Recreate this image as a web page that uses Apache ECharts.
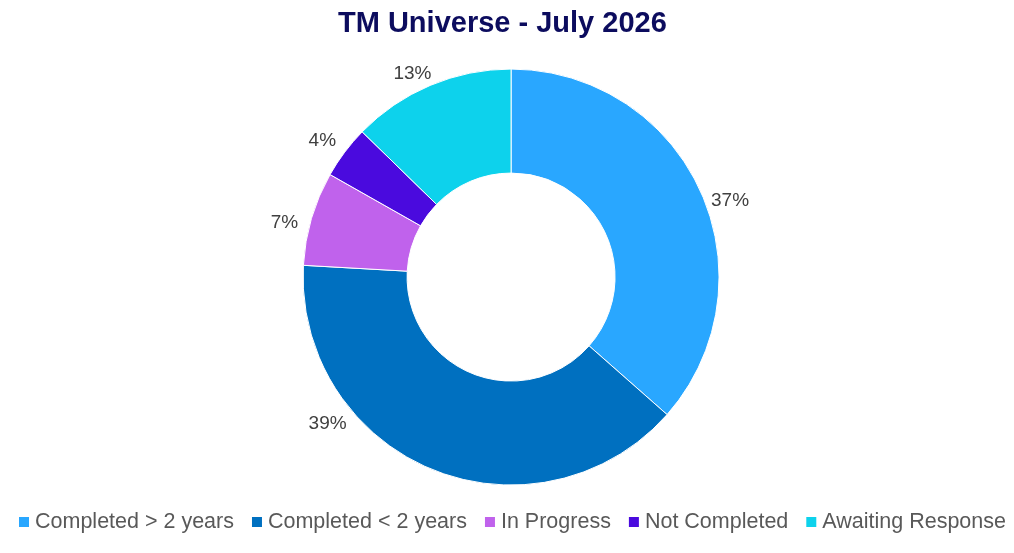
<!DOCTYPE html>
<html>
<head>
<meta charset="utf-8">
<script src="https://cdn.jsdelivr.net/npm/echarts@6/dist/echarts.min.js"></script>
<style>html,body{margin:0;padding:0;background:#fff;}#c{width:1014px;height:553px;}</style>
</head>
<body>
<div id="c"></div>
<script>
var categories = ['Completed > 2 years', 'Completed < 2 years', 'In Progress', 'Not Completed', 'Awaiting Response'];
var values = [36.5, 39.4, 7.3, 4.1, 12.7];
var colors = ['#29A7FF', '#0070C0', '#C062EC', '#4A0ADE', '#0DD2EC'];

var chart = echarts.init(document.getElementById('c'));
var labelShift = [5, 29, -3, -1, -3];
var labelRadius = [232, 235, 233, 233, 226];
chart.setOption({
  animation: false,
  title: {
    text: 'TM Universe - July 2026',
    left: 333, top: 4,
    textStyle: { fontFamily: 'Liberation Sans', fontWeight: 'bold', fontSize: 29, color: '#0C0C5E' }
  },
  legend: {
    bottom: 15, left: 12,
    itemWidth: 12, itemHeight: 12, itemGap: 16,
    icon: 'rect',
    textStyle: { fontFamily: 'Liberation Sans', fontSize: 21.5, color: '#595959' },
    data: categories
  },
  series: [{
    type: 'pie',
    center: ['50.4%', '50.1%'],
    radius: [104, 208],
    startAngle: 90,
    clockwise: true,
    percentPrecision: 0,
    itemStyle: { borderColor: '#fff', borderWidth: 1 },
    label: {
      show: true, position: 'outside', formatter: '{d}%',
      fontFamily: 'Liberation Sans', fontSize: 19, color: '#404040'
    },
    labelLine: { show: true, length: 0, length2: 0, lineStyle: { opacity: 0, width: 0 } },
    labelLayout: function (p) {
      var pts = p.labelLinePoints;
      if (!pts) return {};
      var cx = chart.getWidth() * 0.504, cy = chart.getHeight() * 0.501;
      var ang = Math.atan2(pts[0][1] - cy, pts[0][0] - cx) + labelShift[p.dataIndex] * Math.PI / 180;
      var R = labelRadius[p.dataIndex];
      return { x: cx + R * Math.cos(ang), y: cy + R * Math.sin(ang), align: 'center', verticalAlign: 'middle' };
    },
    data: categories.map(function (n, i) { return { name: n, value: values[i], itemStyle: { color: colors[i] } }; })
  }]
});
</script>
</body>
</html>
